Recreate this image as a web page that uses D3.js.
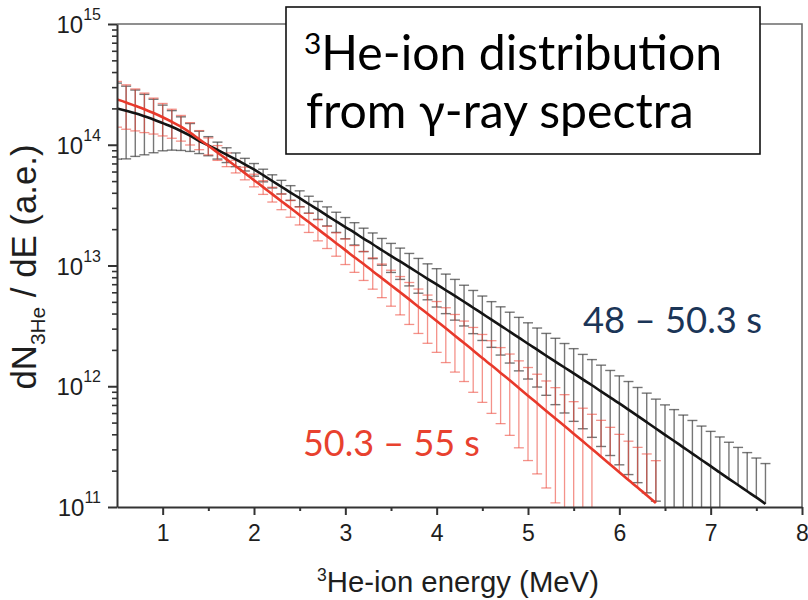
<!DOCTYPE html>
<html>
<head>
<meta charset="utf-8">
<script src="https://cdn.jsdelivr.net/npm/d3@7"></script>
<style>
  body { margin: 0; background: #fff; }
  svg { display: block; }
</style>
</head>
<body>
<svg id="chart" width="808" height="600"></svg>
<script>
// Ion energy grid (MeV)
const energy = [
  0.5, 0.6, 0.7, 0.8, 0.9, 1.0, 1.1, 1.2, 1.3, 1.4,
  1.5, 1.6, 1.7, 1.8, 1.9, 2.0, 2.1, 2.2, 2.3, 2.4,
  2.5, 2.6, 2.7, 2.8, 2.9, 3.0, 3.1, 3.2, 3.3, 3.4,
  3.5, 3.6, 3.7, 3.8, 3.9, 4.0, 4.1, 4.2, 4.3, 4.4,
  4.5, 4.6, 4.7, 4.8, 4.9, 5.0, 5.1, 5.2, 5.3, 5.4,
  5.5, 5.6, 5.7, 5.8, 5.9, 6.0, 6.1, 6.2, 6.3, 6.4,
  6.5, 6.6, 6.7, 6.8, 6.9, 7.0, 7.1, 7.2, 7.3, 7.4,
  7.5, 7.6
];

// dN/dE for the 48 – 50.3 s window
const early = [
  2.00e14, 1.91e14, 1.82e14, 1.72e14, 1.62e14, 1.51e14, 1.41e14, 1.30e14, 1.19e14, 1.07e14,
  9.89e13, 9.06e13, 8.28e13, 7.57e13, 6.89e13, 6.24e13, 5.60e13, 5.01e13, 4.49e13, 4.02e13,
  3.61e13, 3.23e13, 2.90e13, 2.59e13, 2.32e13, 2.08e13, 1.87e13, 1.67e13, 1.50e13, 1.34e13,
  1.20e13, 1.08e13, 9.68e12, 8.67e12, 7.76e12, 6.97e12, 6.24e12, 5.60e12, 5.01e12, 4.47e12,
  3.99e12, 3.56e12, 3.18e12, 2.83e12, 2.53e12, 2.25e12, 2.01e12, 1.79e12, 1.60e12, 1.43e12,
  1.28e12, 1.14e12, 1.02e12, 9.06e11, 8.09e11, 7.21e11, 6.40e11, 5.68e11, 5.04e11, 4.47e11,
  3.96e11, 3.52e11, 3.12e11, 2.77e11, 2.45e11, 2.18e11, 1.93e11, 1.71e11, 1.52e11, 1.35e11,
  1.20e11, 1.06e11
];
// relative uncertainty (sigma / value) for the 48 – 50.3 s window
const earlyRelErr = [
  0.62, 0.60, 0.56, 0.52, 0.47, 0.41, 0.36, 0.31, 0.26, 0.21,
  0.18, 0.16, 0.14, 0.13, 0.12, 0.12, 0.12, 0.125, 0.13, 0.14,
  0.15, 0.16, 0.17, 0.18, 0.19, 0.20, 0.21, 0.22, 0.24, 0.25,
  0.27, 0.29, 0.30, 0.32, 0.33, 0.35, 0.36, 0.37, 0.37, 0.39,
  0.40, 0.41, 0.43, 0.45, 0.47, 0.49, 0.51, 0.53, 0.56, 0.58,
  0.60, 0.61, 0.63, 0.65, 0.67, 0.69, 0.71, 0.72, 0.74, 0.75,
  0.77, 0.82, 0.85, 0.88, 0.91, 0.94, 0.97, 1.01, 1.05, 1.09,
  1.12, 1.16
];

// dN/dE for the 50.3 – 55 s window (0.5 … 6.4 MeV)
const late = [
  2.37e14, 2.24e14, 2.10e14, 1.97e14, 1.83e14, 1.69e14, 1.55e14, 1.41e14, 1.26e14, 1.11e14,
  9.82e13, 8.63e13, 7.57e13, 6.64e13, 5.82e13, 5.09e13, 4.46e13, 3.90e13, 3.41e13, 2.99e13,
  2.61e13, 2.29e13, 2.00e13, 1.75e13, 1.53e13, 1.34e13, 1.17e13, 1.03e13, 8.97e12, 7.85e12,
  6.87e12, 6.00e12, 5.24e12, 4.56e12, 3.98e12, 3.47e12, 3.02e12, 2.62e12, 2.28e12, 1.98e12,
  1.71e12, 1.49e12, 1.29e12, 1.12e12, 9.66e11, 8.36e11, 7.23e11, 6.25e11, 5.41e11, 4.68e11,
  4.05e11, 3.50e11, 3.02e11, 2.61e11, 2.25e11, 1.94e11, 1.67e11, 1.45e11, 1.25e11, 1.08e11
];
const lateRelErr = [
  0.41, 0.40, 0.38, 0.36, 0.33, 0.30, 0.27, 0.24, 0.21, 0.18,
  0.16, 0.14, 0.13, 0.12, 0.12, 0.12, 0.13, 0.14, 0.15, 0.16,
  0.17, 0.18, 0.20, 0.21, 0.22, 0.24, 0.25, 0.27, 0.29, 0.31,
  0.33, 0.35, 0.38, 0.40, 0.43, 0.45, 0.48, 0.50, 0.52, 0.55,
  0.57, 0.60, 0.62, 0.65, 0.68, 0.71, 0.74, 0.77, 0.80, 0.82,
  0.84, 0.88, 0.94, 1.00, 1.03, 1.06, 1.10, 1.15, 1.20, 1.24
];

// Axis ticks
const xMajorTicks = [1, 2, 3, 4, 5, 6, 7, 8];
const xMinorTicks = [1.5, 2.5, 3.5, 4.5, 5.5, 6.5, 7.5];
const yDecadeExponents = [11, 12, 13, 14, 15];
const yMinorMantissas = [2, 3, 4, 5, 6, 7, 8, 9];

// Text
const titleLine1 = { sup: "3", rest: "He-ion distribution" };
const titleLine2 = "from γ-ray spectra";
const earlyLabel = "48 – 50.3 s";
const lateLabel = "50.3 – 55 s";
const xTitle = { sup: "3", rest: "He-ion energy (MeV)" };
const yTitle = { main: "dN", sub: "3He", rest: " / dE (a.e.)" };

// ---------------------------------------------------------------
const svg = d3.select("#chart");
const W = 808, H = 600;
const plot = { left: 117, right: 802, top: 24, bottom: 507 };
const AXIS_FONT = "'Liberation Sans', Arial, Helvetica, sans-serif";
const NOTE_FONT = "Lato, 'Open Sans', sans-serif";

svg.append("rect").attr("width", W).attr("height", H).attr("fill", "#fff");

const x = d3.scaleLinear().domain([0.5, 8]).range([plot.left, plot.right]);
const y = d3.scaleLog().domain([1e11, 1e15]).range([plot.bottom, plot.top]);

svg.append("defs").append("clipPath").attr("id", "plot-clip")
  .append("rect")
  .attr("x", plot.left).attr("y", plot.top)
  .attr("width", plot.right - plot.left).attr("height", plot.bottom - plot.top);

// frame (top and right)
svg.append("path")
  .attr("d", `M${plot.left},${plot.top}H${plot.right}V${plot.bottom}`)
  .attr("fill", "none").attr("stroke", "#6b6b6b").attr("stroke-width", 1.6);

// ---------- data layer ----------
const dataLayer = svg.append("g").attr("clip-path", "url(#plot-clip)");

function drawErrorBars(values, relErr, color, opacity, width) {
  const pts = values.map((v, i) => ({ e: energy[i], v, s: v * relErr[i] }));
  const g = dataLayer.append("g")
    .attr("stroke", color).attr("stroke-opacity", opacity)
    .attr("stroke-width", width).attr("fill", "none");
  const capHalf = 5;
  pts.forEach(p => {
    const cx = x(p.e);
    const yTop = y(p.v + p.s);
    const lo = p.v - p.s;
    const yBot = lo > 0 ? y(lo) : y(p.v);
    g.append("line").attr("x1", cx).attr("x2", cx).attr("y1", yTop).attr("y2", yBot);
    g.append("line").attr("x1", cx - capHalf).attr("x2", cx + capHalf)
      .attr("y1", yTop).attr("y2", yTop);
    if (lo > 0) {
      g.append("line").attr("x1", cx - capHalf).attr("x2", cx + capHalf)
        .attr("y1", yBot).attr("y2", yBot);
    }
  });
}

function drawCurve(values, color, width) {
  const line = d3.line()
    .x((d, i) => x(energy[i]))
    .y(d => y(d))
    .curve(d3.curveMonotoneX);
  dataLayer.append("path")
    .datum(values)
    .attr("d", line)
    .attr("fill", "none")
    .attr("stroke", color)
    .attr("stroke-width", width)
    .attr("stroke-linejoin", "round");
}

drawErrorBars(early, earlyRelErr, "#3c3c3c", 0.7, 1.4);
drawErrorBars(late, lateRelErr, "#ec4a3c", 0.6, 1.3);
drawCurve(early, "#141414", 2.6);
drawCurve(late, "#e8392b", 2.6);

// ---------- axes ----------
const axisColor = "#333";
const textColor = "#1e1e1e";

// x axis
const xAxisMajor = d3.axisBottom(x).tickValues(xMajorTicks).tickSize(8).tickSizeOuter(0)
  .tickFormat(d3.format("d")).tickPadding(10);
const gx = svg.append("g").attr("transform", `translate(0,${plot.bottom})`).call(xAxisMajor);
gx.select(".domain").attr("stroke", axisColor).attr("stroke-width", 2);
gx.selectAll(".tick line").attr("stroke", axisColor).attr("stroke-width", 2);
gx.selectAll(".tick text")
  .attr("font-family", AXIS_FONT).attr("font-size", 23).attr("fill", textColor);

const xAxisMinor = d3.axisBottom(x).tickValues(xMinorTicks).tickSize(4).tickSizeOuter(0)
  .tickFormat("");
const gxm = svg.append("g").attr("transform", `translate(0,${plot.bottom})`).call(xAxisMinor);
gxm.select(".domain").remove();
gxm.selectAll(".tick line").attr("stroke", axisColor).attr("stroke-width", 2);

// y axis
const yDecades = yDecadeExponents.map(k => Math.pow(10, k));
const yMinor = [];
yDecadeExponents.slice(0, -1).forEach(k => {
  yMinorMantissas.forEach(m => yMinor.push(m * Math.pow(10, k)));
});

const yAxisMajor = d3.axisLeft(y).tickValues(yDecades).tickSize(9).tickSizeOuter(0)
  .tickFormat("");
const gy = svg.append("g").attr("transform", `translate(${plot.left},0)`).call(yAxisMajor);
gy.select(".domain").attr("stroke", axisColor).attr("stroke-width", 2);
gy.selectAll(".tick line").attr("stroke", axisColor).attr("stroke-width", 2);

const yAxisMinor = d3.axisLeft(y).tickValues(yMinor).tickSize(5).tickSizeOuter(0)
  .tickFormat("");
const gym = svg.append("g").attr("transform", `translate(${plot.left},0)`).call(yAxisMinor);
gym.select(".domain").remove();
gym.selectAll(".tick line").attr("stroke", axisColor).attr("stroke-width", 1.6);

// decade labels 10^k
yDecadeExponents.forEach(k => {
  const t = svg.append("text")
    .attr("x", 101).attr("y", y(Math.pow(10, k)) + 9)
    .attr("text-anchor", "end")
    .attr("font-family", AXIS_FONT).attr("fill", textColor);
  t.append("tspan").attr("font-size", 24).text("10");
  t.append("tspan").attr("font-size", 16).attr("dy", -13).text(String(k));
});

function fitWidth(textSel, target) {
  const base = +textSel.attr("font-size");
  const w = textSel.node().getBBox().width;
  if (w > 0) textSel.attr("font-size", base * target / w);
}

// x axis title
const xt = svg.append("text")
  .attr("x", 458).attr("y", 592).attr("text-anchor", "middle")
  .attr("font-family", AXIS_FONT).attr("font-size", 26).attr("fill", textColor);
xt.append("tspan").attr("font-size", "0.6em").attr("dy", -11).text(xTitle.sup);
xt.append("tspan").attr("dy", 11).text(xTitle.rest);
fitWidth(xt, 282);

// y axis title
const yt = svg.append("text")
  .attr("transform", "translate(36,267) rotate(-90)")
  .attr("text-anchor", "middle")
  .attr("font-family", AXIS_FONT).attr("font-size", 26).attr("fill", textColor);
yt.append("tspan").text(yTitle.main);
yt.append("tspan").attr("font-size", "0.6em").attr("dy", 9).text(yTitle.sub);
yt.append("tspan").attr("dy", -9).text(yTitle.rest);
fitWidth(yt, 245);

// ---------- annotations ----------
// title box
svg.append("rect")
  .attr("x", 286).attr("y", 7).attr("width", 474).attr("height", 147)
  .attr("fill", "#fff").attr("stroke", "#111").attr("stroke-width", 1.6);

const t1 = svg.append("text")
  .attr("x", 304).attr("y", 70)
  .attr("font-family", NOTE_FONT).attr("font-size", 44).attr("fill", "#000");
t1.append("tspan").attr("font-size", "0.62em").attr("dy", -16).text(titleLine1.sup);
t1.append("tspan").attr("dy", 16).text(titleLine1.rest);

const t2 = svg.append("text")
  .attr("x", 306).attr("y", 128)
  .attr("font-family", NOTE_FONT).attr("font-size", 44).attr("fill", "#000")
  .text(titleLine2);
fitWidth(t2, 388);
t1.attr("font-size", t2.attr("font-size"));

// series labels
const le = svg.append("text")
  .attr("x", 583).attr("y", 333)
  .attr("font-family", NOTE_FONT).attr("font-size", 34).attr("fill", "#1b3557")
  .text(earlyLabel);
fitWidth(le, 179);

const ll = svg.append("text")
  .attr("x", 303).attr("y", 456)
  .attr("font-family", NOTE_FONT).attr("font-size", 34).attr("fill", "#e8412e")
  .text(lateLabel);
fitWidth(ll, 177);
</script>
</body>
</html>
